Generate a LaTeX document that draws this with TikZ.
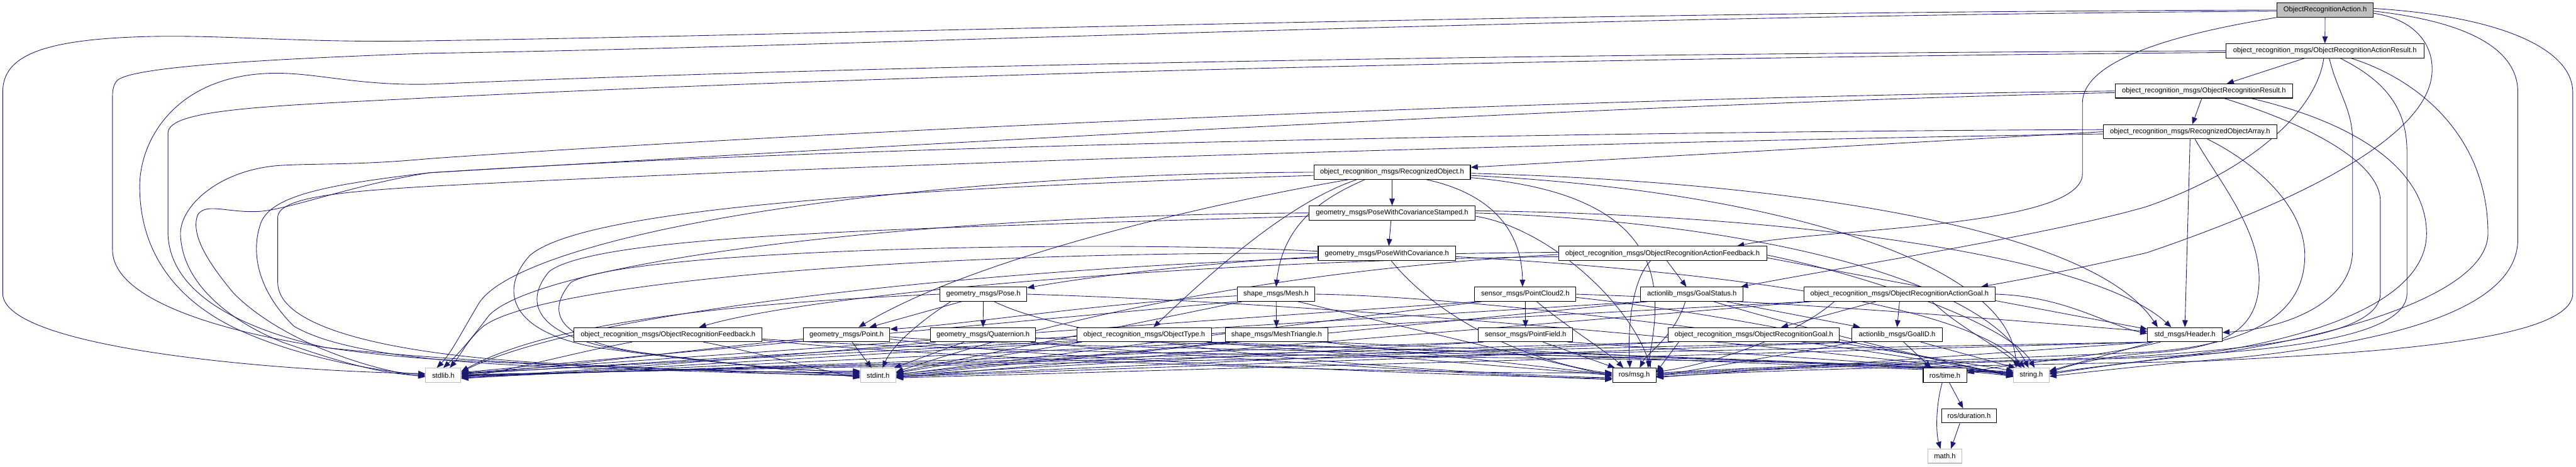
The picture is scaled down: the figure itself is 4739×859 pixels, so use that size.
\documentclass[tikz,border=0pt]{standalone}
\usepackage{fontspec}
\setmainfont{Liberation Sans}
\usetikzlibrary{arrows.meta}
\definecolor{edgec}{HTML}{191970}
\definecolor{grayc}{HTML}{BFBFBF}
\pgfdeclarelayer{bg}
\pgfsetlayers{bg,main}
\begin{document}
\begin{tikzpicture}[x=1pt,y=-1pt,
  nd/.style={draw=black,fill=white,line width=1.2pt,minimum height=26pt,inner sep=0pt,font=\fontsize{13}{15}\selectfont},
  ug/.style={nd,draw=grayc},
  edg/.style={draw=edgec,line width=1.0pt,-{Triangle[length=13pt,width=10pt]}}]
\useasboundingbox (0,0) rectangle (4739,859);
% nodes
\node[nd,fill=grayc,minimum width=177pt] (act) at (4277.5,18.5) {ObjectRecognitionAction.h};
\node[nd,minimum width=364pt] (aresult) at (4277,93.5) {object\_recognition\_msgs/ObjectRecognitionActionResult.h};
\node[nd,minimum width=327pt] (result) at (4054.5,167.5) {object\_recognition\_msgs/ObjectRecognitionResult.h};
\node[nd,minimum width=320pt] (roarr) at (4029,242.5) {object\_recognition\_msgs/RecognizedObjectArray.h};
\node[nd,minimum width=288pt] (robj) at (2561,317) {object\_recognition\_msgs/RecognizedObject.h};
\node[nd,minimum width=306pt] (pwcs) at (2561,392) {geometry\_msgs/PoseWithCovarianceStamped.h};
\node[nd,minimum width=253pt] (pwc) at (2551.5,466.5) {geometry\_msgs/PoseWithCovariance.h};
\node[nd,minimum width=383pt] (afeedback) at (3058.5,466.5) {object\_recognition\_msgs/ObjectRecognitionActionFeedback.h};
\node[nd,minimum width=160pt] (pose) at (1809,541.5) {geometry\_msgs/Pose.h};
\node[nd,minimum width=143pt] (mesh) at (2347.5,541.5) {shape\_msgs/Mesh.h};
\node[nd,minimum width=186pt] (pc2) at (2806,541.5) {sensor\_msgs/PointCloud2.h};
\node[nd,minimum width=189pt] (gstatus) at (3112.5,541.5) {actionlib\_msgs/GoalStatus.h};
\node[nd,minimum width=351pt] (agoal) at (3494.5,541.5) {object\_recognition\_msgs/ObjectRecognitionActionGoal.h};
\node[nd,minimum width=346pt] (feedback) at (1229,616) {object\_recognition\_msgs/ObjectRecognitionFeedback.h};
\node[nd,minimum width=159pt] (point) at (1557.5,616) {geometry\_msgs/Point.h};
\node[nd,minimum width=193pt] (quat) at (1808.5,616) {geometry\_msgs/Quaternion.h};
\node[nd,minimum width=248pt] (otype) at (2105,616) {object\_recognition\_msgs/ObjectType.h};
\node[nd,minimum width=189pt] (mtri) at (2348.5,616) {shape\_msgs/MeshTriangle.h};
\node[nd,minimum width=173pt] (pfield) at (2806.5,616) {sensor\_msgs/PointField.h};
\node[nd,minimum width=315pt] (goal) at (3226.5,616) {object\_recognition\_msgs/ObjectRecognitionGoal.h};
\node[nd,minimum width=166pt] (goalid) at (3490,616) {actionlib\_msgs/GoalID.h};
\node[nd,minimum width=137pt] (header) at (4019.5,616) {std\_msgs/Header.h};
\node[ug,minimum width=65pt] (stdlib) at (815.5,690.7) {stdlib.h};
\node[ug,minimum width=65pt] (stdint) at (1615.5,690.7) {stdint.h};
\node[nd,minimum width=80pt] (rosmsg) at (3006.5,690.7) {ros/msg.h};
\node[nd,minimum width=80pt] (rostime) at (3578,690.7) {ros/time.h};
\node[ug,minimum width=65pt] (string) at (3737,690.7) {string.h};
\node[nd,minimum width=101pt] (duration) at (3622.5,765.5) {ros/duration.h};
\node[ug,minimum width=62pt] (math) at (3578,839.7) {math.h};

\begin{pgfonlayer}{bg}
% act
\draw[edg] (act) -- (aresult);
\draw[edg] (act.south west) .. controls (4050,55) and (3831,100) .. (3831,190) -- (3831,320) .. controls (3831,420) and (3350,420) .. ([xshift=-55pt]afeedback.north east);
\draw[edg] ([yshift=-6pt]act.east) .. controls (4440,35) and (4478,80) .. (4474,135) .. controls (4465,260) and (4200,380) .. (3950,465) .. controls (3800,500) and (3700,518) .. ([xshift=150pt]agoal.north);
\draw[edg] (act.west) .. controls (2800,22) and (1500,65) .. (790,75) .. controls (550,80) and (400,62) .. (250,68) .. controls (60,75) and (5,110) .. (5,170) -- (5,540) .. controls (5,640) and (500,683) .. ([yshift=3pt]stdlib.west);
\draw[edg] ([yshift=-2pt]act.west) .. controls (2800,30) and (1500,88) .. (790,98) .. controls (450,110) and (230,125) .. (214,150) .. controls (207,160) and (207,170) .. (207,180) -- (207,460) .. controls (207,580) and (550,650) .. (850,664) .. controls (1150,678) and (1400,686) .. ([yshift=5pt]stdint.west);
\draw[edg] ([yshift=-2pt]act.east) .. controls (4540,40) and (4632,90) .. (4632,170) -- (4632,440) .. controls (4632,570) and (4400,630) .. (4100,660) .. controls (3950,672) and (3850,684) .. ([yshift=-2pt]string.east);
\draw[edg] ([yshift=3pt]act.east) .. controls (4600,30) and (4733,90) .. (4733,170) -- (4733,540) .. controls (4733,630) and (4350,650) .. (4050,665) .. controls (3700,672) and (3300,678) .. ([yshift=-3pt]rosmsg.east);
% aresult
\draw[edg] ([xshift=-37pt]aresult.south) -- ([xshift=42pt]result.north);
\draw[edg] ([xshift=-2pt]aresult.south) .. controls (4262,200) and (4150,310) .. (3950,380) .. controls (3780,430) and (3400,490) .. ([xshift=-5pt]gstatus.north east);
\draw[edg] ([xshift=8pt]aresult.south) .. controls (4300,170) and (4328,200) .. (4328,260) -- (4328,460) .. controls (4328,560) and (4200,605) .. ([yshift=4pt]header.east);
\draw[edg] ([xshift=28pt]aresult.south) .. controls (4390,150) and (4428,200) .. (4428,280) -- (4428,540) .. controls (4428,620) and (4200,648) .. (3900,660) .. controls (3600,668) and (3300,676) .. (rosmsg.east);
\draw[edg] ([xshift=48pt]aresult.south) .. controls (4460,150) and (4577,260) .. (4577,430) .. controls (4577,530) and (4350,610) .. (4080,650) .. controls (3900,668) and (3830,680) .. ([yshift=2pt]string.east);
\draw[edg] (aresult.west) .. controls (2600,100) and (1500,125) .. (790,155) .. controls (650,158) and (580,132) .. (494,135) .. controls (320,142) and (257,260) .. (257,343) .. controls (257,470) and (330,560) .. (450,612) .. controls (560,660) and (700,684) .. ([yshift=1pt]stdlib.west);
\draw[edg] ([yshift=-3pt]aresult.west) .. controls (2600,110) and (1500,145) .. (790,180) .. controls (500,195) and (309,200) .. (309,245) -- (309,430) .. controls (312,530) and (420,600) .. (600,640) .. controls (900,672) and (1300,684) .. ([yshift=3pt]stdint.west);
% result
\draw[edg] ([xshift=-4pt]result.south) -- ([xshift=4pt]roarr.north);
\draw[edg] (result.west) .. controls (3000,178) and (1600,235) .. (790,292) .. controls (650,305) and (580,300) .. (509,305) .. controls (400,315) and (332,380) .. (332,430) .. controls (334,520) and (420,590) .. (520,630) .. controls (620,665) and (700,688) .. ([yshift=-1pt]stdlib.west);
\draw[edg] ([yshift=-3pt]result.west) .. controls (3000,190) and (1600,270) .. (790,318) .. controls (600,340) and (500,360) .. (480,410) .. controls (462,460) and (470,530) .. (540,600) .. controls (640,660) and (900,672) .. (1100,678) .. controls (1300,684) and (1450,690) .. ([yshift=1pt]stdint.west);
\draw[edg] ([xshift=37pt]result.south) .. controls (4250,230) and (4379,300) .. (4379,370) -- (4379,540) .. controls (4379,610) and (4200,640) .. (3900,658) .. controls (3600,666) and (3300,674) .. ([yshift=2pt]rosmsg.east);
\draw[edg] ([xshift=87pt]result.south) .. controls (4350,230) and (4464,320) .. (4464,430) .. controls (4464,540) and (4300,610) .. (4090,645) .. controls (3920,668) and (3830,678) .. ([yshift=4pt]string.east);
% roarr
\draw[edg] (roarr.west) -- ([yshift=9pt]robj.east);
\draw[edg] (roarr.south) -- (header.north);
\draw[edg] ([xshift=9pt]roarr.south) .. controls (4080,330) and (4156,420) .. (4156,513) .. controls (4156,610) and (4090,642) .. (3950,650) .. controls (3850,658) and (3800,676) .. ([yshift=6pt]string.east);
\draw[edg] ([xshift=32pt]roarr.south) .. controls (4150,300) and (4240,380) .. (4240,470) .. controls (4240,580) and (4140,635) .. (3950,648) .. controls (3650,662) and (3300,672) .. ([yshift=4pt]rosmsg.east);
\draw[edg] ([yshift=4pt]roarr.west) .. controls (3000,242) and (1600,265) .. (790,318) .. controls (650,340) and (540,383) .. (480,389) .. controls (420,393) and (380,372) .. (364,395) .. controls (350,430) and (380,480) .. (430,540) .. controls (520,630) and (680,680) .. ([yshift=-3pt]stdlib.west);
\draw[edg] ([yshift=-4pt]roarr.west) .. controls (3000,260) and (1600,300) .. (790,343) .. controls (640,352) and (511,362) .. (511,400) -- (511,520) .. controls (511,600) and (700,650) .. (1000,668) .. controls (1250,680) and (1450,690) .. ([yshift=-1pt]stdint.west);
% robj
\draw[edg] (robj) -- (pwcs);
\draw[edg] ([xshift=63pt]robj.south) .. controls (2760,360) and (2800,440) .. ([xshift=-5pt]pc2.north);
\draw[edg] ([xshift=-50pt]robj.south) .. controls (2420,370) and (2360,420) .. (mesh.north);
\draw[edg] ([xshift=-65pt]robj.south) .. controls (2380,370) and (2250,480) .. ([xshift=17pt]otype.north);
\draw[edg] ([xshift=-80pt]robj.south) .. controls (2250,370) and (1800,470) .. ([xshift=22pt]point.north);
\draw[edg] ([yshift=-2pt]robj.east) .. controls (3300,335) and (3850,420) .. ([xshift=-50pt]header.north);
\draw[edg] ([yshift=-6pt]robj.east) .. controls (3250,350) and (3700,480) .. ([xshift=-28pt]string.north);
\draw[edg] ([yshift=-10pt]robj.east) .. controls (3100,360) and (3050,560) .. ([xshift=25pt]rosmsg.north);
\draw[edg] (robj.west) .. controls (1600,320) and (950,440) .. (880,560) .. controls (850,610) and (830,650) .. ([xshift=-12pt]stdlib.north);
\draw[edg] ([yshift=-6pt]robj.west) .. controls (1700,345) and (1080,380) .. (975,470) .. controls (920,530) and (930,610) .. (1100,640) .. controls (1300,668) and (1480,684) .. ([yshift=7pt]stdint.west);
% pwcs
\draw[edg] ([xshift=-2pt]pwcs.south) -- ([xshift=3.5pt]pwc.north);
\draw[edg] ([yshift=4pt]pwcs.east) .. controls (3300,395) and (3850,470) .. ([xshift=-25pt]header.north);
\draw[edg] (pwcs.east) .. controls (3250,410) and (3650,520) .. ([xshift=-5pt]string.north);
\draw[edg] ([yshift=-6pt]pwcs.east) .. controls (2850,420) and (3000,560) .. ([xshift=30pt]rosmsg.north);
\draw[edg] (pwcs.west) .. controls (1700,395) and (1000,480) .. (900,580) .. controls (870,620) and (845,650) .. (stdlib.north);
\draw[edg] ([yshift=-6pt]pwcs.west) .. controls (1700,420) and (1100,430) .. (1010,500) .. controls (960,560) and (990,620) .. (1150,645) .. controls (1350,672) and (1500,686) .. ([yshift=8pt]stdint.west);
% pwc
\draw[edg] ([yshift=-6pt]pwc.west) .. controls (2200,485) and (2000,510) .. ([yshift=-2pt]pose.north east);
\draw[edg] ([xshift=8pt]pwc.south) .. controls (2640,580) and (2800,665) .. ([yshift=3pt]rosmsg.west);
\draw[edg] ([yshift=-6pt]pwc.east) .. controls (3000,490) and (3600,540) .. ([xshift=-12pt]string.north);
\draw[edg] (pwc.west) .. controls (1700,462) and (1000,520) .. (890,600) .. controls (860,625) and (850,650) .. ([xshift=12pt]stdlib.north);
\draw[edg] ([yshift=4pt]pwc.west) .. controls (2000,440) and (1150,460) .. (1050,520) .. controls (1000,580) and (1030,630) .. (1200,652) .. controls (1400,675) and (1500,688) .. ([yshift=-3pt]stdint.west);
% afeedback
\draw[edg] ([yshift=-6pt]afeedback.west) .. controls (2200,480) and (1500,540) .. ([xshift=57pt]feedback.north);
\draw[edg] ([xshift=8pt]afeedback.south) -- ([xshift=-10pt]gstatus.north);
\draw[edg] ([xshift=-22pt]afeedback.south) .. controls (2998,520) and (2995,620) .. ([xshift=-8pt]rosmsg.north);
\draw[edg] ([yshift=-8pt]afeedback.east) -- ([yshift=10pt]header.west);
\draw[edg] ([yshift=-3pt]afeedback.east) .. controls (3450,510) and (3700,600) .. ([xshift=6pt]string.north);
\draw[edg] ([yshift=2pt]afeedback.west) .. controls (2000,470) and (1100,560) .. ([yshift=6pt]stdlib.east);
\draw[edg] ([yshift=-2pt]afeedback.west) .. controls (2300,500) and (1900,600) .. ([yshift=6pt]stdint.east);
% pose
\draw[edg] ([xshift=-40pt]pose.south) -- ([xshift=42pt]point.north);
\draw[edg] (pose.south) -- (quat.north);
\draw[edg] ([xshift=20pt]pose.south) .. controls (2000,640) and (2600,685) .. ([yshift=-5pt]rosmsg.west);
\draw[edg] (pose.east) .. controls (2500,560) and (3300,640) .. ([yshift=3pt]string.west);
\draw[edg] (pose.west) .. controls (1300,560) and (1000,600) .. ([yshift=7pt]stdlib.east);
\draw[edg] ([xshift=-60pt]pose.south) .. controls (1680,600) and (1640,640) .. ([xshift=8pt]stdint.north);
% mesh
\draw[edg] (mesh) -- (mtri);
\draw[edg] ([yshift=-3pt]mesh.west) .. controls (2000,560) and (1800,595) .. ([yshift=10pt]point.east);
\draw[edg] ([xshift=40pt]mesh.south) -- ([yshift=-2pt]rosmsg.west);
\draw[edg] (mesh.east) .. controls (2700,545) and (3300,620) .. ([yshift=1pt]string.west);
\draw[edg] (mesh.south west) -- ([yshift=5pt]stdlib.east);
\draw[edg] ([xshift=10pt]mesh.south west) -- ([yshift=5pt]stdint.east);
% pc2
\draw[edg] (pc2) -- (pfield);
\draw[edg] ([xshift=21pt]pc2.south) .. controls (2880,600) and (2960,650) .. ([xshift=-20pt]rosmsg.north);
\draw[edg] (pc2.east) .. controls (3300,555) and (3700,590) .. ([yshift=6pt]header.west);
\draw[edg] ([yshift=-6pt]pc2.east) .. controls (3200,580) and (3500,650) .. ([yshift=-1pt]string.west);
\draw[edg] ([xshift=8pt]pc2.south west) -- ([yshift=4pt]stdlib.east);
\draw[edg] ([xshift=14pt]pc2.south west) -- ([yshift=1pt]stdint.east);
% gstatus
\draw[edg] ([xshift=63pt]gstatus.south) -- ([xshift=-68pt]goalid.north);
\draw[edg] ([xshift=-12pt]gstatus.south) .. controls (3080,620) and (3030,650) .. ([xshift=10pt]rosmsg.north);
\draw[edg] ([xshift=40pt]gstatus.south) .. controls (3300,600) and (3550,660) .. ([yshift=-3pt]string.west);
\draw[edg] ([xshift=8pt]gstatus.south west) -- ([yshift=2pt]stdlib.east);
\draw[edg] ([xshift=14pt]gstatus.south west) -- ([yshift=-1pt]stdint.east);
% agoal
\draw[edg] ([xshift=-43pt]agoal.south) -- ([xshift=50pt]goal.north);
\draw[edg] (agoal.south) -- (goalid.north);
\draw[edg] (agoal.east) .. controls (3800,545) and (3880,600) .. ([yshift=2pt]header.west);
\draw[edg] ([xshift=-120pt]agoal.south) .. controls (3300,620) and (3150,670) .. ([yshift=6pt]rosmsg.east);
\draw[edg] ([xshift=60pt]agoal.south) .. controls (3600,600) and (3680,640) .. ([xshift=-18pt]string.north);
\draw[edg] ([xshift=8pt]agoal.south west) -- ([yshift=3pt]stdlib.east);
\draw[edg] ([xshift=14pt]agoal.south west) -- ([yshift=-4pt]stdint.east);
% feedback
\draw[edg] ([xshift=-66pt]feedback.south) .. controls (1050,650) and (950,680) .. ([yshift=-4pt]stdlib.east);
\draw[edg] ([xshift=65pt]feedback.south) .. controls (1400,650) and (1500,680) .. ([yshift=-5pt]stdint.west);
\draw[edg] ([yshift=-10pt]feedback.east) .. controls (1700,660) and (2600,690) .. ([yshift=5pt]rosmsg.west);
\draw[edg] ([yshift=-8pt]feedback.east) .. controls (2000,665) and (3400,650) .. ([yshift=2pt]string.west);
% point
\draw[edg] ([xshift=10pt]point.south) -- ([xshift=-12pt]stdint.north);
\draw[edg] ([yshift=-8pt]point.west) .. controls (1300,640) and (1000,680) .. ([yshift=3pt]stdlib.east);
\draw[edg] ([yshift=-8pt]point.east) .. controls (1900,660) and (2600,690) .. ([yshift=-6pt]rosmsg.west);
\draw[edg] ([yshift=-4pt]point.east) .. controls (2000,650) and (3400,650) .. (string.west);
% quat
\draw[edg] ([xshift=-35pt]quat.south) -- ([xshift=-4pt]stdint.north east);
\draw[edg] ([xshift=10pt]quat.south west) .. controls (1500,650) and (1000,690) .. ([yshift=-2pt]stdlib.east);
\draw[edg] ([xshift=-10pt]quat.south east) .. controls (2100,650) and (2700,690) .. ([yshift=-8pt]rosmsg.west);
\draw[edg] ([yshift=-6pt]quat.east) .. controls (2300,640) and (3400,655) .. ([yshift=-2pt]string.west);
% otype
\draw[edg] ([xshift=6pt]otype.south west) -- ([yshift=-6pt]stdlib.east);
\draw[edg] ([xshift=10pt]otype.south west) -- ([yshift=4pt]stdint.east);
\draw[edg] ([xshift=-10pt]otype.south east) -- (rosmsg.west);
\draw[edg] ([xshift=-6pt]otype.south east) -- ([yshift=4pt]string.west);
% mtri
\draw[edg] ([xshift=6pt]mtri.south west) -- ([yshift=-5pt]stdlib.east);
\draw[edg] ([xshift=10pt]mtri.south west) -- ([yshift=2pt]stdint.east);
\draw[edg] ([xshift=-10pt]mtri.south east) -- ([yshift=1pt]rosmsg.west);
\draw[edg] ([xshift=-6pt]mtri.south east) -- ([yshift=5pt]string.west);
% pfield
\draw[edg] ([xshift=6pt]pfield.south west) -- ([yshift=-3pt]stdlib.east);
\draw[edg] ([xshift=10pt]pfield.south west) -- (stdint.east);
\draw[edg] ([xshift=32pt]pfield.south) -- ([xshift=5pt]rosmsg.north west);
\draw[edg] ([xshift=-10pt]pfield.south east) -- ([yshift=6pt]string.west);
% goal
\draw[edg] ([xshift=6pt]goal.south west) -- ([yshift=-1pt]stdlib.east);
\draw[edg] ([xshift=10pt]goal.south west) -- ([yshift=-2pt]stdint.east);
\draw[edg] ([xshift=20pt]goal.south west) -- ([yshift=-8pt]rosmsg.north east);
\draw[edg] ([xshift=-10pt]goal.south east) -- ([yshift=8pt]string.west);
% goalid
\draw[edg] ([xshift=12pt]goalid.south) -- ([xshift=-25pt]rostime.north);
\draw[edg] ([xshift=-40pt]goalid.south east) -- ([xshift=4pt]string.north west);
\draw[edg] ([xshift=8pt]goalid.south west) -- ([yshift=-2pt]rosmsg.east);
\draw[edg] ([xshift=6pt]goalid.south west) -- (stdlib.east);
\draw[edg] ([xshift=10pt]goalid.south west) -- ([yshift=-3pt]stdint.east);
% header
\draw[edg] ([xshift=-45pt]header.south) .. controls (3850,660) and (3700,668) .. ([yshift=4pt]rostime.east);
\draw[edg] ([xshift=10pt]header.south west) -- ([yshift=8pt]string.east);
\draw[edg] ([xshift=4pt]header.south west) -- ([yshift=-4pt]rosmsg.east);
\draw[edg] ([xshift=6pt]header.south west) -- ([yshift=1pt]stdlib.east);
\draw[edg] ([xshift=10pt]header.south west) -- ([yshift=-5pt]stdint.east);
% ros
\draw[edg] ([xshift=8pt]rostime.south) -- ([xshift=-11pt]duration.north);
\draw[edg] ([xshift=-5pt]rostime.south) .. controls (3560,750) and (3562,800) .. ([xshift=-8pt]math.north);
\draw[edg] ([xshift=-17pt]duration.south) -- ([xshift=11pt]math.north);
\end{pgfonlayer}
\end{tikzpicture}
\end{document}
